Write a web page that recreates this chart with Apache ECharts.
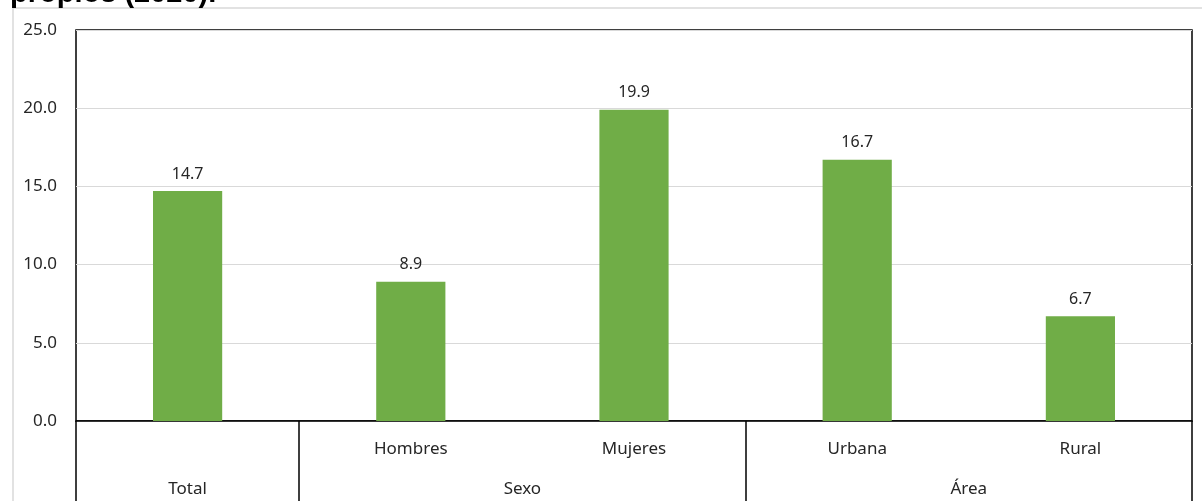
<!DOCTYPE html>
<html>
<head>
<meta charset="utf-8">
<style>
  html, body { margin: 0; padding: 0; background: #fff; }
  #chart { width: 1202px; height: 501px; }
</style>
<script src="https://cdn.jsdelivr.net/npm/echarts@6/dist/echarts.min.js"></script>
</head>
<body>
<div id="chart"></div>
<script>
// Categories (lower level) and their values
const categories = ['Total', 'Hombres', 'Mujeres', 'Urbana', 'Rural'];
const values = [14.7, 8.9, 19.9, 16.7, 6.7];
// Inner-row labels (Total is shown only in the group row)
const innerLabels = ['', 'Hombres', 'Mujeres', 'Urbana', 'Rural'];
// Group row: names, where each group starts/ends, and label centres (in category units)
const groupNames = ['Total', 'Sexo', 'Área'];
const groupBounds = [0, 1, 3, 5];
const groupCenters = [0.5, 2, 4];
// Y axis ticks
const yTicks = [0, 5, 10, 15, 20, 25];

const FONT = 'Noto Sans';
const TEXT = '#262626';
const chart = echarts.init(document.getElementById('chart'));

chart.setOption({
  animation: false,
  backgroundColor: '#fff',
  title: {
    text: 'propios (2020).',
    left: 10,
    top: -21,
    padding: 0,
    textStyle: { fontFamily: 'Liberation Sans', fontWeight: 'bold', fontSize: 29, color: '#000' }
  },
  graphic: [{
    type: 'polyline',
    shape: { points: [[13, 520], [13, 8], [1210, 8]] },
    style: { stroke: '#d9d9d9', lineWidth: 1.5, fill: null },
    silent: true,
    z: -1
  }],
  grid: {
    left: 76, right: 10, top: 30, bottom: 80,
    show: true, borderColor: '#000', borderWidth: 1.5, backgroundColor: 'transparent'
  },
  xAxis: [{
    type: 'category',
    data: categories,
    position: 'bottom',
    axisLine: { show: true, lineStyle: { color: '#000', width: 1.5 } },
    axisTick: { show: false },
    axisLabel: {
      margin: 20,
      fontFamily: FONT, fontSize: 17, color: TEXT,
      formatter: (v, i) => innerLabels[i]
    },
    splitLine: { show: false }
  }, {
    type: 'value',
    min: 0, max: categories.length,
    position: 'bottom',
    axisLine: { show: false },
    axisTick: {
      show: true, customValues: groupBounds, length: 90,
      lineStyle: { color: '#000', width: 1.5 }
    },
    axisLabel: {
      show: true, customValues: groupCenters, margin: 60,
      fontFamily: FONT, fontSize: 17, color: TEXT,
      formatter: (v) => groupNames[groupCenters.indexOf(v)]
    },
    splitLine: { show: false }
  }],
  yAxis: {
    type: 'value',
    min: yTicks[0], max: yTicks[yTicks.length - 1], interval: 5,
    axisLine: { show: false },
    axisTick: { show: false },
    axisLabel: {
      margin: 19,
      fontFamily: FONT, fontSize: 17, color: TEXT,
      formatter: (v) => v.toFixed(1)
    },
    splitLine: { lineStyle: { color: '#d9d9d9', width: 1 } }
  },
  series: [{
    type: 'bar',
    xAxisIndex: 0,
    data: values,
    barWidth: '31%',
    itemStyle: { color: '#70AD47' },
    label: {
      show: true, position: 'top', distance: 9,
      fontFamily: FONT, fontSize: 16, color: TEXT,
      formatter: (p) => p.value.toFixed(1)
    }
  }]
});
</script>
</body>
</html>
